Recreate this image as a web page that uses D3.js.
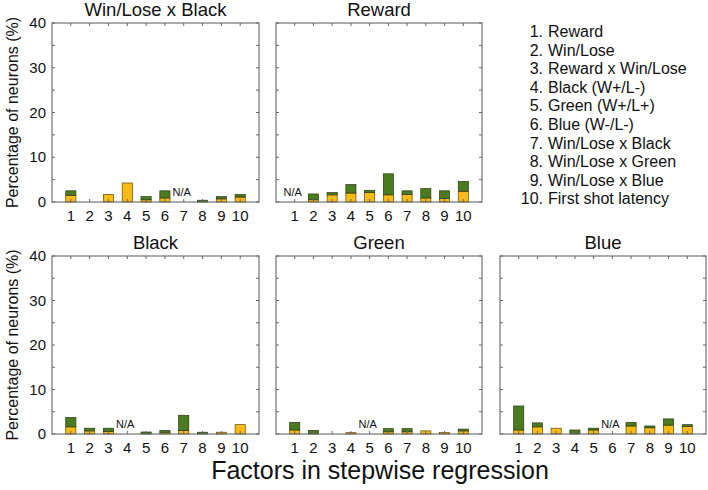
<!DOCTYPE html>
<html><head><meta charset="utf-8">
<script src="https://cdn.jsdelivr.net/npm/d3@7/dist/d3.min.js"></script>
<style>body{margin:0;background:#fff}svg{display:block}text{font-family:"Liberation Sans",Arial,sans-serif;fill:#111}</style>
</head><body><svg id="c" width="708" height="490"></svg>
<script>
const categories = [1,2,3,4,5,6,7,8,9,10];
const yTicks = [0,10,20,30,40];
const panelTitles = ["Win/Lose x Black","Reward","Black","Green","Blue"];
const naCategory = [7,1,4,5,6];
const yellowWLBlack = [1.5,0,1.7,4.25,0.5,0.9,0,0,0.7,1.1];
const greenWLBlack  = [1.0,0,0,0,0.7,1.6,0,0.4,0.5,0.6];
const yellowReward  = [0,0.5,1.6,2.0,2.1,1.6,1.7,0.9,0.8,2.4];
const greenReward   = [0,1.3,0.5,1.9,0.5,4.7,0.8,2.1,1.7,2.2];
const yellowBlack   = [1.6,0.7,0.6,0,0,0.4,0.8,0,0.4,2.1];
const greenBlack    = [2.1,0.6,0.7,0,0.45,0.4,3.4,0.4,0,0];
const yellowGreen   = [0.9,0,0,0.3,0,0.5,0.5,0.7,0.35,0.7];
const greenGreen    = [1.7,0.8,0,0,0,0.7,0.7,0,0,0.4];
const yellowBlue    = [0.9,1.6,1.3,0,0.9,0,1.8,1.4,2.0,1.7];
const greenBlue     = [5.4,0.9,0,0.9,0.4,0,0.8,0.4,1.4,0.4];
const legendItems = ["Reward","Win/Lose","Reward x Win/Lose","Black (W+/L-)","Green (W+/L+)","Blue (W-/L-)","Win/Lose x Black","Win/Lose x Green","Win/Lose x Blue","First shot latency"];

const yellowSeries = [yellowWLBlack,yellowReward,yellowBlack,yellowGreen,yellowBlue];
const greenSeries = [greenWLBlack,greenReward,greenBlack,greenGreen,greenBlue];

const svg = d3.select("#c");
const cols = [[52,259],[276,482],[500,706]];
const rows = [[23,202],[256,434]];
const slots = [[0,0],[1,0],[0,1],[1,1],[2,1]];
const YEL="#FDBA12", GRN="#4B7B1F", AX="#666";

slots.forEach((s,i)=>{
  const [x0,x1]=cols[s[0]], [y0,y1]=rows[s[1]];
  const x=d3.scaleLinear().domain([0,11]).range([x0,x1]);
  const y=d3.scaleLinear().domain([0,40]).range([y1,y0]);
  const g=svg.append("g");
  const bw=(x(1)-x(0))*0.54;
  categories.forEach((c,j)=>{
    const yv=yellowSeries[i][j], gv=greenSeries[i][j];
    if(yv>0) g.append("rect").attr("x",x(c)-bw/2).attr("width",bw).attr("y",y(yv)).attr("height",y(0)-y(yv)).attr("fill",YEL).attr("stroke","#5a4a10").attr("stroke-width",0.7);
    if(gv>0) g.append("rect").attr("x",x(c)-bw/2).attr("width",bw).attr("y",y(yv+gv)).attr("height",y(yv)-y(yv+gv)).attr("fill",GRN).attr("stroke","#2a3a10").attr("stroke-width",0.7);
  });
  g.append("rect").attr("x",x0).attr("y",y0).attr("width",x1-x0).attr("height",y1-y0).attr("fill","none").attr("stroke",AX).attr("stroke-width",1.1);
  const tl=3;
  categories.forEach(c=>{
    g.append("line").attr("x1",x(c)).attr("x2",x(c)).attr("y1",y1).attr("y2",y1-tl).attr("stroke",AX);
    g.append("line").attr("x1",x(c)).attr("x2",x(c)).attr("y1",y0).attr("y2",y0+tl).attr("stroke",AX);
    g.append("text").attr("x",x(c)).attr("y",y1+19).attr("text-anchor","middle").attr("font-size",15).text(c);
  });
  d3.range(0,41,5).forEach(v=>{
    g.append("line").attr("x1",x0).attr("x2",x0+tl).attr("y1",y(v)).attr("y2",y(v)).attr("stroke",AX);
    g.append("line").attr("x1",x1).attr("x2",x1-tl).attr("y1",y(v)).attr("y2",y(v)).attr("stroke",AX);
  });
  if(s[0]===0){
    yTicks.forEach(v=>g.append("text").attr("x",x0-6).attr("y",y(v)+5).attr("text-anchor","end").attr("font-size",15).text(v));
    g.append("text").attr("transform",`translate(18,${(y0+y1)/2}) rotate(-90)`).attr("text-anchor","middle").attr("font-size",16).text("Percentage of neurons (%)");
  }
  g.append("text").attr("x",(x0+x1)/2).attr("y",y0-7).attr("text-anchor","middle").attr("font-size",18.5).text(panelTitles[i]);
  g.append("text").attr("x",x(naCategory[i])-2).attr("y",y(0)-6).attr("text-anchor","middle").attr("font-size",11).text("N/A");
});

legendItems.forEach((t,i)=>{
  const yy=37+i*18.6;
  svg.append("text").attr("x",543).attr("y",yy).attr("text-anchor","end").attr("font-size",16).text((i+1)+".");
  svg.append("text").attr("x",548).attr("y",yy).attr("font-size",16).text(t);
});
svg.append("text").attr("x",380).attr("y",479).attr("text-anchor","middle").attr("font-size",25).text("Factors in stepwise regression");
</script></body></html>
